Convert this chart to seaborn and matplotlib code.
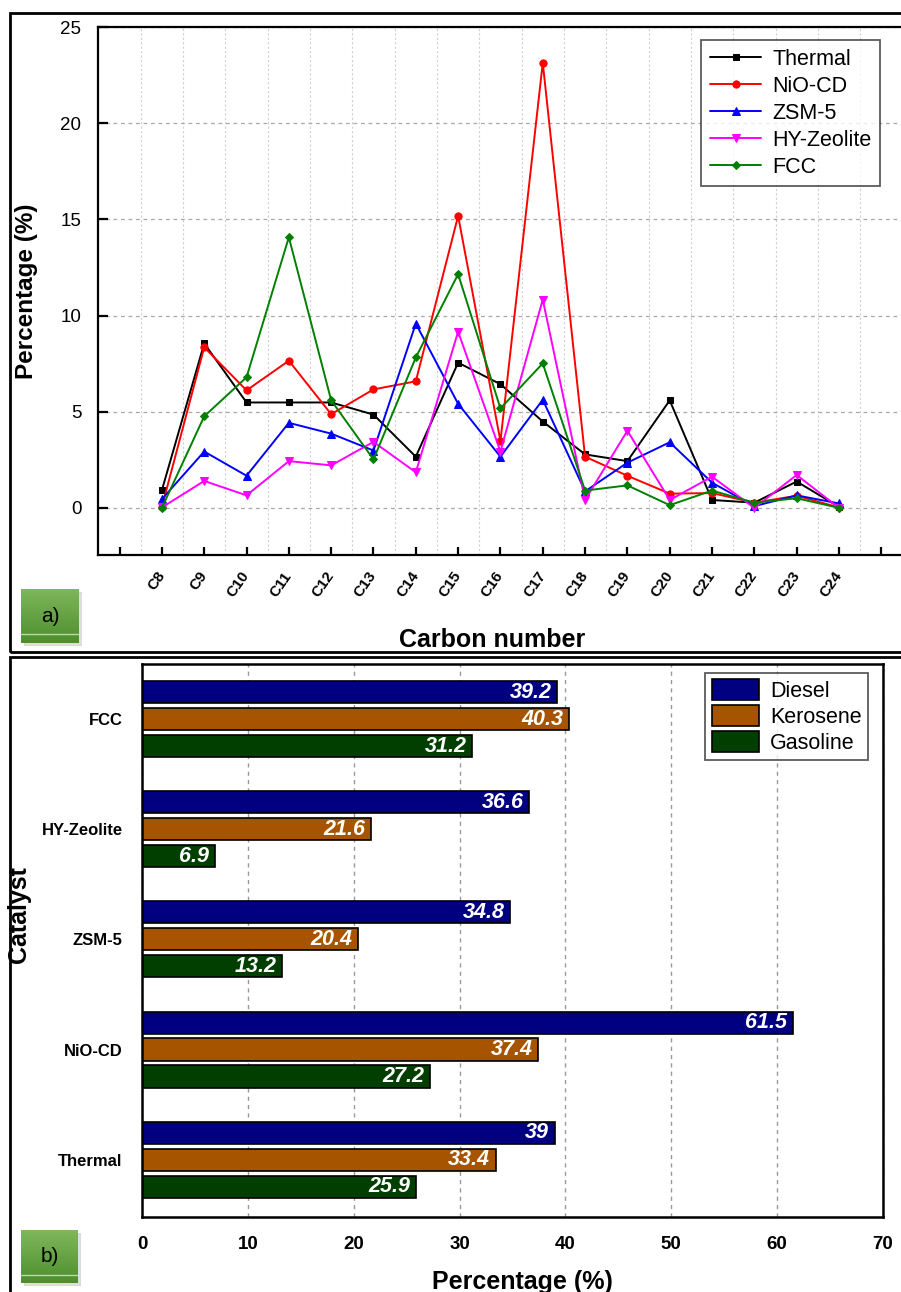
import numpy as np
import pandas as pd
import matplotlib
matplotlib.use("Agg")
import matplotlib.pyplot as plt
import matplotlib.patches as mpatches
from matplotlib.colors import LinearSegmentedColormap
from matplotlib.ticker import MultipleLocator, FixedLocator
import seaborn as sns

# ---------------- data ----------------
carbon_numbers = list(range(8, 25))
carbon_labels = [f"C{n}" for n in carbon_numbers]

thermal = [0.92, 8.55, 5.48, 5.48, 5.48, 4.85, 2.66, 7.55, 6.43, 4.49, 2.78, 2.43, 5.59, 0.41, 0.27, 1.37, 0.05]
nio_cd = [0.05, 8.35, 6.11, 7.65, 4.87, 6.16, 6.58, 15.18, 3.47, 23.14, 2.66, 1.67, 0.74, 0.77, 0.27, 0.63, 0.02]
zsm5 = [0.45, 2.93, 1.67, 4.42, 3.86, 2.98, 9.58, 5.41, 2.66, 5.62, 0.86, 2.35, 3.41, 1.31, 0.09, 0.65, 0.23]
hy_zeolite = [0.02, 1.40, 0.65, 2.43, 2.21, 3.43, 1.85, 9.16, 2.93, 10.83, 0.41, 4.01, 0.41, 1.62, 0.00, 1.71, 0.00]
fcc = [0.00, 4.76, 6.79, 14.07, 5.59, 2.52, 7.82, 12.15, 5.17, 7.51, 0.90, 1.17, 0.14, 0.90, 0.27, 0.50, 0.00]

series_names = ["Thermal", "NiO-CD", "ZSM-5", "HY-Zeolite", "FCC"]
series_values = [thermal, nio_cd, zsm5, hy_zeolite, fcc]
series_colors = ["#000000", "#FF0000", "#0000FF", "#FF00FF", "#008000"]
series_markers = ["s", "o", "^", "v", "D"]
series_msizes = [4.5, 5.2, 5.5, 5.5, 4.2]

catalysts = ["FCC", "HY-Zeolite", "ZSM-5", "NiO-CD", "Thermal"]
fractions = ["Diesel", "Kerosene", "Gasoline"]
diesel = [39.2, 36.6, 34.8, 61.5, 39.0]
kerosene = [40.3, 21.6, 20.4, 37.4, 33.4]
gasoline = [31.2, 6.9, 13.2, 27.2, 25.9]
fraction_colors = ["#000080", "#A65400", "#003F00"]

# ---------------- style ----------------
sns.set_style("white")
plt.rcParams["font.family"] = ["Liberation Sans", "DejaVu Sans"]
plt.rcParams["text.color"] = "black"
plt.rcParams["axes.labelcolor"] = "black"
plt.rcParams["xtick.color"] = "black"
plt.rcParams["ytick.color"] = "black"

W, H = 901, 1292
fig = plt.figure(figsize=(W / 100, H / 100), dpi=100)


def fx(x):
    return x / W


def fy(y):
    return 1 - y / H


# panel frames
for (x0, y0, x1, y1) in [(10, 13, 905, 652), (10, 657, 905, 1300)]:
    fig.patches.append(mpatches.Rectangle((fx(x0), fy(y1)), fx(x1 - x0), (y1 - y0) / H,
                                          transform=fig.transFigure, fill=False,
                                          edgecolor="black", linewidth=2.0, clip_on=False))

# ---------------- panel a ----------------
ax1 = fig.add_axes([fx(98), fy(555), fx(905 - 98), (555 - 27) / H])
for name, vals, col, mk, ms in zip(series_names, series_values, series_colors,
                                    series_markers, series_msizes):
    sns.lineplot(x=carbon_numbers, y=vals, color=col, marker=mk, markersize=ms,
                 markeredgecolor=col, markerfacecolor=col, linewidth=1.4,
                 label=name, ax=ax1)

ax1.set_xlim(6.49, 25.56)
ax1.set_ylim(-2.45, 25)
ax1.xaxis.set_major_locator(FixedLocator(list(range(7, 26))))
ax1.set_xticklabels([""] + carbon_labels + [""])
ax1.xaxis.set_minor_locator(FixedLocator([v + 0.5 for v in range(7, 26)]))
ax1.yaxis.set_major_locator(MultipleLocator(5))
ax1.tick_params(axis="x", which="major", direction="in", length=6, width=1.6,
                bottom=True, top=False, pad=13, labelsize=11, colors="black")
ax1.tick_params(axis="x", which="minor", length=0)
ax1.tick_params(axis="y", which="major", direction="in", length=7, width=1.6,
                left=True, right=False, pad=12, labelsize=13.5, colors="black")
for lab in ax1.get_xticklabels():
    lab.set_rotation(55)
    lab.set_ha("right")
    lab.set_va("center")
    lab.set_rotation_mode("anchor")
    lab.set_fontweight("bold")
ax1.grid(False)
ax1.grid(axis="y", which="major", color="#A8A8A8", linestyle=(0, (3, 3)), linewidth=0.9)
ax1.grid(axis="x", which="minor", color="#D0D0D0", linestyle=(0, (2, 2)), linewidth=0.8)
ax1.set_axisbelow(True)
for sp in ax1.spines.values():
    sp.set_linewidth(1.6)
    sp.set_color("black")
ax1.set_xlabel("Carbon number", fontsize=18, fontweight="bold", color="black")
ax1.xaxis.set_label_coords((492 - 98) / 807, (555 - 628) / 528)
ax1.xaxis.label.set_va("top")
ax1.set_ylabel("Percentage (%)", fontsize=17.5, fontweight="bold", color="black")
ax1.yaxis.set_label_coords((38 - 98) / 807, 0.5)

h1, l1 = ax1.get_legend_handles_labels()
leg1 = ax1.legend(h1, l1, loc="upper right", bbox_to_anchor=(fx(880), fy(40)),
                  bbox_transform=fig.transFigure, borderaxespad=0, frameon=True,
                  fancybox=False, fontsize=15.5, handlelength=2.4, labelspacing=0.28,
                  handletextpad=0.5, borderpad=0.4)
leg1.get_frame().set_edgecolor("#333333")
leg1.get_frame().set_linewidth(1.3)

# ---------------- panel b ----------------
ax2 = fig.add_axes([fx(142), fy(1217), fx(883 - 142), (1217 - 664) / H])
bar_df = pd.DataFrame({
    "Catalyst": catalysts * 3,
    "Fraction": sum([[f] * len(catalysts) for f in fractions], []),
    "Percentage": diesel + kerosene + gasoline,
})
sns.barplot(data=bar_df, x="Percentage", y="Catalyst", hue="Fraction",
            order=catalysts, hue_order=fractions, palette=fraction_colors,
            orient="h", width=0.735, gap=0.18, edgecolor="black", linewidth=1.2,
            saturation=1, errorbar=None, ax=ax2)
ax2.set_xlim(0, 70)
ax2.set_ylim(4.52, -0.5)
ax2.xaxis.set_major_locator(MultipleLocator(10))
ax2.tick_params(axis="x", length=0, pad=14, labelsize=13.5, colors="black")
ax2.tick_params(axis="y", length=0, pad=14, labelsize=12, colors="black")
for lab in ax2.get_xticklabels() + ax2.get_yticklabels():
    lab.set_fontweight("bold")
ax2.grid(False)
ax2.grid(axis="x", color="#999999", linestyle=(0, (3, 3)), linewidth=1.0)
ax2.set_axisbelow(True)
for sp in ax2.spines.values():
    sp.set_linewidth(1.8)
    sp.set_color("black")

for cont in ax2.containers:
    vals = [p.get_width() for p in cont]
    texts = ax2.bar_label(cont, labels=[f"{v:g}" for v in vals], padding=-4,
                          color="white", fontsize=15.5, fontweight="bold", fontstyle="italic")
    for t in texts:
        t.set_ha("right")

ax2.set_xlabel("Percentage (%)", fontsize=18, fontweight="bold", color="black")
ax2.xaxis.set_label_coords((522 - 142) / 741, (1217 - 1270) / 553)
ax2.xaxis.label.set_va("top")
ax2.set_ylabel("Catalyst", fontsize=18, fontweight="bold", color="black")
ax2.yaxis.set_label_coords((31 - 142) / 741, (1217 - 915) / 553)

h2, l2 = ax2.get_legend_handles_labels()
leg2 = ax2.legend(h2, l2, loc="upper right", bbox_to_anchor=(fx(868), fy(673)),
                  bbox_transform=fig.transFigure, borderaxespad=0, frameon=True,
                  fancybox=False, fontsize=15.5, handlelength=2.2, handleheight=1.1,
                  labelspacing=0.15, handletextpad=0.5, borderpad=0.3)
leg2.get_frame().set_edgecolor("#333333")
leg2.get_frame().set_linewidth(1.3)

# ---------------- green panel tags ----------------
tag_cmap = LinearSegmentedColormap.from_list("tag", ["#7FB75C", "#4E8E2E"])
for (x0, y0, x1, y1, txt) in [(21, 589, 79, 643, "a)"), (21, 1230, 78, 1283, "b)")]:
    sh = fig.add_axes([fx(x0 + 3), fy(y1 + 3), fx(x1 - x0), (y1 - y0) / H])
    sh.set_axis_off()
    sh.add_patch(mpatches.Rectangle((0, 0), 1, 1, transform=sh.transAxes,
                                    color="#C8C8C8", alpha=0.6))
    tg = fig.add_axes([fx(x0), fy(y1), fx(x1 - x0), (y1 - y0) / H])
    tg.imshow(np.linspace(0, 1, 50).reshape(-1, 1), aspect="auto", cmap=tag_cmap,
              extent=(0, 1, 0, 1))
    tg.axhline(0.16, color="#B9D9A6", linewidth=1.0)
    tg.set_xlim(0, 1)
    tg.set_ylim(0, 1)
    tg.set_axis_off()
    tg.text(0.5, 0.5, txt, ha="center", va="center", fontsize=15, color="black")

fig.savefig("out.png", dpi=100)
